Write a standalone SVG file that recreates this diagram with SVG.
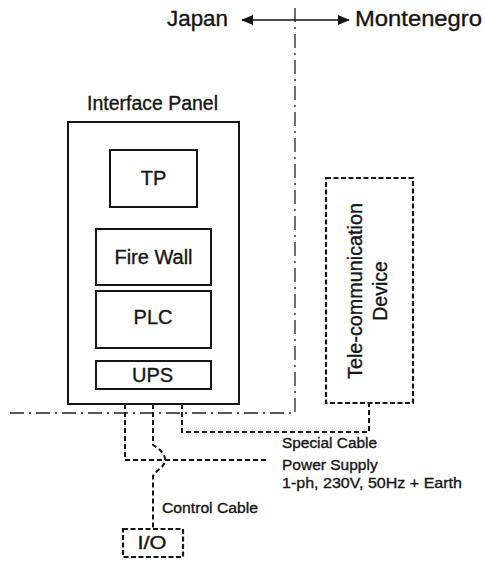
<svg xmlns="http://www.w3.org/2000/svg" width="485" height="561" viewBox="0 0 485 561">
<style>
text{font-family:"Liberation Sans",Arial,sans-serif;fill:#151515;stroke:#151515;stroke-width:0.35}
.box{fill:none;stroke:#151515;stroke-width:2}
.dbox{fill:none;stroke:#151515;stroke-width:2.2;stroke-dasharray:5 2.5}
.cable{fill:none;stroke:#151515;stroke-width:2;stroke-dasharray:5 3}
.border{fill:none;stroke:#222;stroke-width:1.3;stroke-dasharray:14 5 2 5}
</style>
<defs>
<marker id="ah" viewBox="0 0 12 10" refX="11" refY="5" markerWidth="12" markerHeight="10" markerUnits="userSpaceOnUse" orient="auto-start-reverse">
<path d="M0,0 L12,5 L0,10 z" fill="#151515"/>
</marker>
</defs>
<rect width="485" height="561" fill="#fff"/>
<g id="border">
<path class="border" d="M295,8 V413 H10"/>
</g>
<g id="country-labels">
<text x="167" y="26" font-size="22" textLength="61" lengthAdjust="spacingAndGlyphs">Japan</text>
<text x="355" y="26" font-size="22" textLength="127" lengthAdjust="spacingAndGlyphs">Montenegro</text>
</g>
<g id="interface-panel">
<text x="87" y="110" font-size="20" textLength="131" lengthAdjust="spacingAndGlyphs">Interface Panel</text>
<rect class="box" x="68" y="122" width="171" height="282"/>
</g>
<g id="tp">
<rect class="box" x="110" y="150" width="87" height="57" stroke-width="1.6"/>
<text x="153.5" y="185" font-size="20" text-anchor="middle">TP</text>
</g>
<g id="firewall">
<rect class="box" x="96" y="229" width="115" height="56" stroke-width="1.6"/>
<text x="153.5" y="264" font-size="20" text-anchor="middle">Fire Wall</text>
</g>
<g id="plc">
<rect class="box" x="96" y="291" width="115" height="57" stroke-width="1.6"/>
<text x="153" y="324" font-size="20" text-anchor="middle">PLC</text>
</g>
<g id="ups">
<rect class="box" x="96" y="361" width="115" height="28" stroke-width="1.6"/>
<text x="152.5" y="382" font-size="20" text-anchor="middle">UPS</text>
</g>
<g id="telecom">
<rect class="dbox" x="326" y="178" width="87" height="225"/>
<text transform="translate(362,291) rotate(-90)" font-size="19.5" text-anchor="middle" textLength="176" lengthAdjust="spacingAndGlyphs">Tele-communication</text>
<text transform="translate(387,291) rotate(-90)" font-size="19.5" text-anchor="middle">Device</text>
</g>
<g id="io">
<rect class="dbox" x="123" y="529" width="60" height="28"/>
<text x="152" y="549" font-size="18" text-anchor="middle" textLength="29" lengthAdjust="spacingAndGlyphs">I/O</text>
</g>
<g id="connectors">
<path d="M242,20 H349" stroke="#151515" stroke-width="1.6" marker-start="url(#ah)" marker-end="url(#ah)"/>
<path class="cable" d="M182,404 V432 H369 V404"/>
<path class="cable" d="M125,404 V460 H268"/>
<path class="cable" d="M153,404 V445 C160,449 166,455 165,461 C164,468 156,470 153,476 V529"/>
</g>
<g id="cable-labels">
<text x="282" y="448" font-size="15.5" textLength="95" lengthAdjust="spacingAndGlyphs">Special Cable</text>
<text x="282" y="470" font-size="15.5">Power Supply</text>
<text x="282" y="488" font-size="15.5" textLength="180" lengthAdjust="spacingAndGlyphs">1-ph, 230V, 50Hz + Earth</text>
<text x="162" y="513" font-size="15.5" textLength="96" lengthAdjust="spacingAndGlyphs">Control Cable</text>
</g>
</svg>
